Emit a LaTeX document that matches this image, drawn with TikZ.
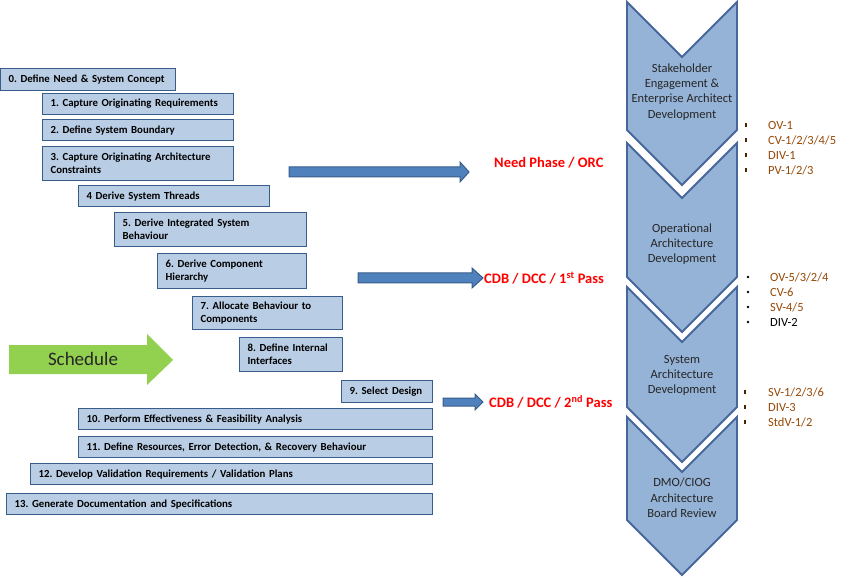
\documentclass[tikz,border=0pt]{standalone}
\usepackage{fontspec}
\setmainfont{Carlito}
\frenchspacing
\definecolor{boxfill}{HTML}{B9CDE5}
\definecolor{boxline}{HTML}{385D8A}
\definecolor{chevfill}{HTML}{95B3D7}
\definecolor{chevline}{HTML}{46679A}
\definecolor{arrowfill}{HTML}{4F81BD}
\definecolor{arrowline}{HTML}{385D8A}
\definecolor{greenarrow}{HTML}{92D050}
\definecolor{viewcol}{HTML}{974806}
\definecolor{redtext}{HTML}{FF0000}
\begin{document}
\begin{tikzpicture}[x=1pt,y=-1pt,
  stepbox/.style={draw=boxline, line width=1.2pt, fill=boxfill, anchor=north west,
    inner xsep=8pt, inner ysep=0pt, align=left,
    font=\fontsize{10.8}{13}\selectfont\bfseries, text=black},
  chev/.style={draw=chevline, line width=1.8pt, fill=chevfill, line join=miter},
  chevtext/.style={align=center, font=\fontsize{12.5}{15.3}\selectfont, text=black!85},
  bluearrow/.style={draw=arrowline, line width=1pt, fill=arrowfill, line join=miter},
  passlabel/.style={anchor=west, inner sep=0pt, text=redtext, font=\fontsize{14.5}{16}\selectfont\bfseries},
  viewitem/.style={anchor=west, inner sep=0pt, text=viewcol, font=\fontsize{12.5}{15}\selectfont},
  sqbullet/.style={fill=viewcol!50!black, minimum width=2.6pt, minimum height=3.2pt, inner sep=0pt},
  dotbullet/.style={circle, fill=black, minimum size=2.6pt, inner sep=0pt}
]
\useasboundingbox (0,0) rectangle (867,577);

% ---- step boxes ----
\node[stepbox, minimum width=175pt, minimum height=22pt, text width=159pt] (b0) at (0,68) {0. Define Need \& System Concept};
\node[stepbox, minimum width=191pt, minimum height=21pt, text width=175pt] (b1) at (42,93) {1. Capture Originating Requirements};
\node[stepbox, minimum width=191pt, minimum height=21pt, text width=175pt] (b2) at (42,119) {2. Define System Boundary};
\node[stepbox, minimum width=191pt, minimum height=34pt, text width=175pt] (b3) at (42,146) {3. Capture Originating Architecture\\Constraints};
\node[stepbox, minimum width=191pt, minimum height=21pt, text width=175pt] (b4) at (78,185) {4 Derive System Threads};
\node[stepbox, minimum width=192pt, minimum height=34pt, text width=176pt] (b5) at (114,212) {5. Derive Integrated System\\Behaviour};
\node[stepbox, minimum width=149pt, minimum height=35pt, text width=133pt] (b6) at (157,253) {6. Derive Component\\Hierarchy};
\node[stepbox, minimum width=150pt, minimum height=33pt, text width=134pt] (b7) at (192,296) {7. Allocate Behaviour to\\Components};
\node[stepbox, minimum width=103pt, minimum height=34pt, text width=87pt] (b8) at (239,337) {8. Define Internal\\Interfaces};
\node[stepbox, minimum width=91pt, minimum height=22pt, text width=75pt] (b9) at (341,380) {9. Select Design};
\node[stepbox, minimum width=354pt, minimum height=21pt, text width=338pt] (b10) at (78,408) {10. Perform Effectiveness \& Feasibility Analysis};
\node[stepbox, minimum width=354pt, minimum height=21pt, text width=338pt] (b11) at (78,436) {11. Define Resources, Error Detection, \& Recovery Behaviour};
\node[stepbox, minimum width=402pt, minimum height=21pt, text width=386pt] (b12) at (30,463) {12. Develop Validation Requirements / Validation Plans};
\node[stepbox, minimum width=426pt, minimum height=21pt, text width=410pt] (b13) at (6,493) {13. Generate Documentation and Specifications};

% ---- schedule arrow ----
\fill[greenarrow] (9,345) -- (147,345) -- (147,334) -- (173,360) -- (147,385) -- (147,374) -- (9,374) -- cycle;
\node[font=\fontsize{19}{22}\selectfont, text=black!85] (sched) at (83,359) {Schedule};

% ---- blue arrows and labels ----
\node[passlabel] (l1) at (494,163) {Need Phase / ORC};
\node[passlabel] (l2) at (484,278) {CDB / DCC / 1\textsuperscript{st} Pass};
\node[passlabel] (l3) at (489,402) {CDB / DCC / 2\textsuperscript{nd} Pass};
\coordinate (a1) at (289,172);
\coordinate (a2) at (358,278);
\coordinate (a3) at (443,402);
\draw[bluearrow] (a1) ++(0,-5) -- (460,167) -- (460,162) -- (469,172) -- (460,182) -- (460,177) -- (289,177) -- cycle;
\draw[bluearrow] (a2) ++(0,-5) -- (472,273) -- (472,268) -- (483,278) -- (472,288) -- (472,283) -- (358,283) -- cycle;
\draw[bluearrow] (a3) ++(0,-4) -- (475,398) -- (475,394) -- (483,402) -- (475,410) -- (475,406) -- (443,406) -- cycle;

% ---- chevrons ----
\draw[chev] (627,2) -- (682,57) -- (737,2) -- (737,130) -- (682,185) -- (627,130) -- cycle;
\draw[chev] (627,143) -- (682,198) -- (737,143) -- (737,277) -- (682,332) -- (627,277) -- cycle;
\draw[chev] (627,287) -- (682,342) -- (737,287) -- (737,407) -- (682,462) -- (627,407) -- cycle;
\draw[chev] (627,417) -- (682,472) -- (737,417) -- (737,520) -- (682,575) -- (627,520) -- cycle;
\node[chevtext] (c1) at (682,92) {Stakeholder\\Engagement \&\\Enterprise Architect\\Development};
\node[chevtext] (c2) at (682,244) {Operational\\Architecture\\Development};
\node[chevtext] (c3) at (682,375.5) {System\\Architecture\\Development};
\node[chevtext] (c4) at (682,498) {DMO/CIOG\\Architecture\\Board Review};

% ---- view lists ----
\node[sqbullet] (p1) at (746,125) {}; \node[viewitem] (v1) at (768,125) {OV-1};
\node[sqbullet] (p2) at (746,140) {}; \node[viewitem] (v2) at (768,140) {CV-1/2/3/4/5};
\node[sqbullet] (p3) at (746,155) {}; \node[viewitem] (v3) at (768,155) {DIV-1};
\node[sqbullet] (p4) at (746,170) {}; \node[viewitem] (v4) at (768,170) {PV-1/2/3};

\node[dotbullet] (q1) at (748,277) {}; \node[viewitem] (w1) at (770,277) {OV-5/3/2/4};
\node[dotbullet] (q2) at (748,292) {}; \node[viewitem] (w2) at (770,292) {CV-6};
\node[dotbullet] (q3) at (748,307) {}; \node[viewitem] (w3) at (770,307) {SV-4/5};
\node[dotbullet] (q4) at (748,322) {}; \node[viewitem, text=black] (w4) at (770,322) {DIV-2};

\node[sqbullet] (r1) at (745,392) {}; \node[viewitem] (u1) at (768,392) {SV-1/2/3/6};
\node[sqbullet] (r2) at (745,407) {}; \node[viewitem] (u2) at (768,407) {DIV-3};
\node[sqbullet] (r3) at (745,422) {}; \node[viewitem] (u3) at (768,422) {StdV-1/2};
\end{tikzpicture}
\end{document}
